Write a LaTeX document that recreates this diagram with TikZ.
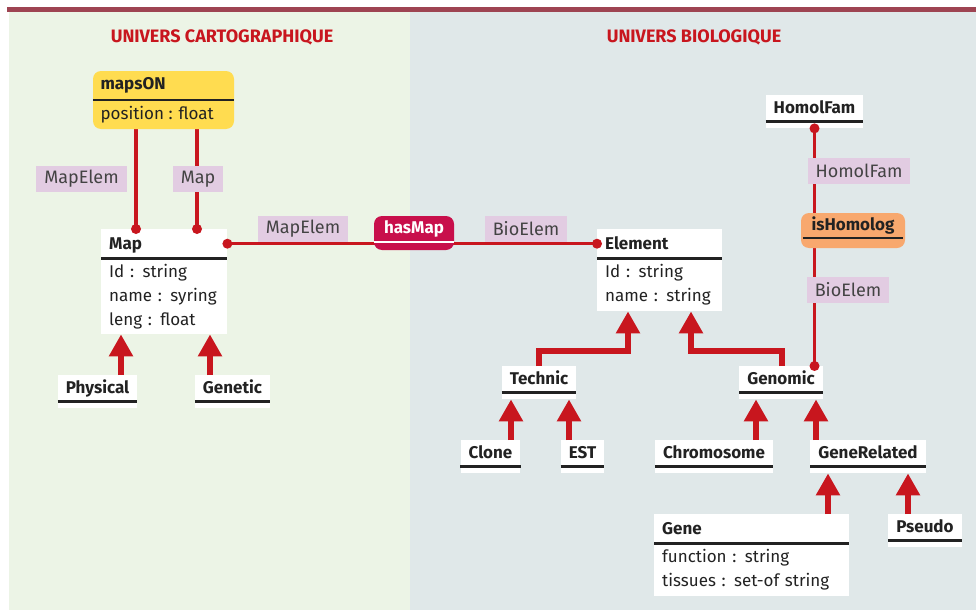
\documentclass[tikz,border=0pt]{standalone}
\usepackage{fontspec}
\setmainfont{Fira Sans}
\usepackage{tikz}
\usetikzlibrary{arrows.meta, positioning}

\definecolor{barred}{HTML}{9E4452}
\definecolor{linered}{HTML}{C8161E}
\definecolor{cartobg}{HTML}{ECF4E6}
\definecolor{biobg}{HTML}{E0E8E9}
\definecolor{rolebg}{HTML}{E2CCE2}
\definecolor{mapsyellow}{HTML}{FFDC50}
\definecolor{homolorange}{HTML}{F8A86E}
\definecolor{hasmapred}{HTML}{C80F4B}
\definecolor{ink}{HTML}{222222}

\begin{document}
\begin{tikzpicture}[x=1pt, y=-1pt,
  univ/.style={font=\fontsize{18}{20}\selectfont\bfseries, text=linered},
  head/.style={fill=white, anchor=north west, inner xsep=8pt, inner ysep=4pt, text height=16pt, text depth=5pt, text width=#1, align=left, font=\fontsize{17}{20}\selectfont\bfseries, text=ink},
  attrs/.style={fill=white, anchor=north west, inner xsep=8pt, inner ysep=0pt, text width=#1, align=left, font=\fontsize{17}{24}\selectfont, text=ink},
  leaf/.style={fill=white, anchor=north, inner xsep=8pt, inner ysep=4pt, text height=14pt, text depth=11pt, font=\fontsize{17}{20}\selectfont\bfseries, text=ink},
  assocbox/.style={rounded corners=8pt, inner ysep=3pt, text height=14pt, text depth=14pt, font=\fontsize{17}{20}\selectfont\bfseries},
  role/.style={fill=rolebg, inner xsep=8pt, minimum height=26pt, font=\fontsize{18}{20}\selectfont, text=ink!85},
  uline/.style={draw=ink, line width=2.5pt},
  assoc/.style={draw=linered, line width=3.5pt},
  gen/.style={draw=linered, line width=5.5pt, line join=miter, -{Triangle[length=22pt, width=23pt]}}]
  \useasboundingbox (0,0) rectangle (976,610);

  % the two universes
  \fill[cartobg] (9,12) rectangle (410,610);
  \fill[biobg] (410,12) rectangle (976,610);
  \fill[barred] (7,7) rectangle (976,12);
  \node[univ] (carto) at (222,37) {UNIVERS CARTOGRAPHIQUE};
  \node[univ] (bio) at (694,37) {UNIVERS BIOLOGIQUE};

  % classes
  \node[head=110pt] (map) at (101,229) {Map};
  \node[attrs=110pt, minimum height=76pt] (map-a) at (101,258) {Id : string\\name : syring\\leng : float};
  \node[head=109pt] (element) at (597,229) {Element};
  \node[attrs=109pt, minimum height=53pt] (element-a) at (597,258) {Id : string\\name : string};
  \node[head=179pt] (gene) at (654,514) {Gene};
  \node[attrs=179pt, minimum height=53pt] (gene-a) at (654,543) {function : string\\tissues : set-of string};

  \node[leaf] (physical) at (97.5,375) {Physical};
  \node[leaf] (genetic) at (232.5,375) {Genetic};
  \node[leaf] (homolfam) at (814.5,95) {HomolFam};
  \node[leaf] (technic) at (539,366) {Technic};
  \node[leaf] (genomic) at (781,366) {Genomic};
  \node[leaf] (clone) at (490.5,440) {Clone};
  \node[leaf] (est) at (582.5,440) {EST};
  \node[leaf] (chromosome) at (714,440) {Chromosome};
  \node[leaf] (generelated) at (868,440) {GeneRelated};
  \node[leaf] (pseudo) at (925,514) {Pseudo};

  % associations
  \draw[assoc] (136,0 |- map.north) -- (136,129);
  \draw[assoc] (197,0 |- map.north) -- (197,129);
  \draw[assoc] (map.east) -- (element.west);
  \draw[assoc] (homolfam.south) -- (814.5,0 |- genomic.north);
  \foreach \p in {(136,0 |- map.north), (197,0 |- map.north), (map.east), (element.west), (homolfam.south), (814.5,0 |- genomic.north)}
    \fill[linered] \p circle (5);

  \node[fill=mapsyellow, rounded corners=8pt, minimum width=141pt, minimum height=58pt] (mapson) at (163.5,100) {};
  \node[anchor=west, font=\fontsize{17}{20}\selectfont\bfseries, text=ink] (mapson-t) at (97,85) {mapsON};
  \node[anchor=west, font=\fontsize{17}{20}\selectfont, text=ink] (mapson-a) at (97,115) {position : float};
  \draw[uline] (mapson.west |- 0,100) -- (mapson.east |- 0,100);

  \node[assocbox, fill=hasmapred, text=white, minimum width=80pt] (hasmap) at (414,233) {hasMap};
  \draw[draw=white, line width=2.5pt] ([yshift=8pt]hasmap.south west) -- ([yshift=8pt]hasmap.south east);
  \node[assocbox, fill=homolorange, text=ink, minimum width=104pt, text depth=15pt] (ishomolog) at (853,230.5) {isHomolog};
  \draw[uline] ([xshift=2pt, yshift=10pt]ishomolog.south west) -- ([xshift=-2pt, yshift=10pt]ishomolog.south east);

  % roles
  \node[role] (r-mapelem) at (81.5,179) {MapElem};
  \node[role] (r-map) at (198,179) {Map};
  \node[role] (r-mapelem2) at (303,228.5) {MapElem};
  \node[role] (r-bioelem) at (526,228.5) {BioElem};
  \node[role] (r-homolfam) at (859,171) {HomolFam};
  \node[role] (r-bioelem2) at (848,290) {BioElem};

  % separators and underlines
  \foreach \c in {physical, genetic, homolfam, technic, genomic, clone, est, chromosome, generelated, pseudo}
    \draw[uline] ([yshift=7pt]\c.south west) -- ([yshift=7pt]\c.south east);
  \foreach \c in {map, element, gene}
    \draw[uline] (\c.south west) -- (\c.south east);

  % generalisations
  \draw[gen] (121,0 |- physical.north) -- (121,0 |- map-a.south);
  \draw[gen] (210,0 |- genetic.north) -- (210,0 |- map-a.south);
  \draw[gen] (539,0 |- technic.north) |- (628,351) -- (628,0 |- element-a.south);
  \draw[gen] (782,0 |- genomic.north) |- (691,351) -- (691,0 |- element-a.south);
  \draw[gen] (511,0 |- clone.north) -- (511,0 |- technic.south);
  \draw[gen] (569,0 |- est.north) -- (569,0 |- technic.south);
  \draw[gen] (756,0 |- chromosome.north) -- (756,0 |- genomic.south);
  \draw[gen] (816,0 |- generelated.north) -- (816,0 |- genomic.south);
  \draw[gen] (828,0 |- gene.north) -- (828,0 |- generelated.south);
  \draw[gen] (908,0 |- pseudo.north) -- (908,0 |- generelated.south);
\end{tikzpicture}
\end{document}
